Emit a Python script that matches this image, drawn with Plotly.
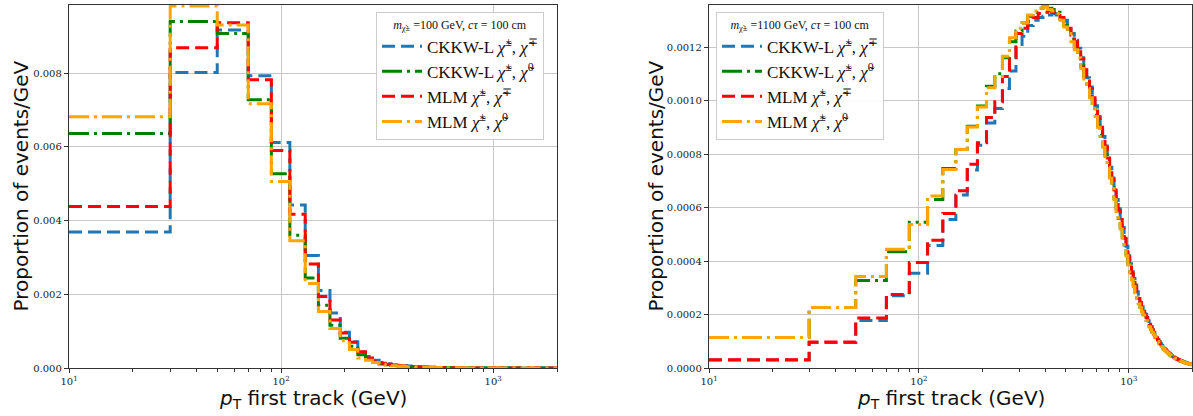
import plotly.graph_objects as go

# ---------------- data ----------------
BIN_WIDTH = 20          # GeV
FIRST_EDGE = 10         # GeV

SERIES = ["CKKW-L <i>χ̃</i><sup>±</sup>, <i>χ̃</i><sup>∓</sup>",
          "CKKW-L <i>χ̃</i><sup>±</sup>, <i>χ̃</i><sup>0</sup>",
          "MLM <i>χ̃</i><sup>±</sup>, <i>χ̃</i><sup>∓</sup>",
          "MLM <i>χ̃</i><sup>±</sup>, <i>χ̃</i><sup>0</sup>"]

LEFT_TITLE = "<i>m</i><sub>χ̃±</sub> =100 GeV, <i>cτ</i> = 100 cm"
RIGHT_TITLE = "<i>m</i><sub>χ̃±</sub> =1100 GeV, <i>cτ</i> = 100 cm"

# left panel, proportion of events/GeV in units of 1e-3 (bins of 20 GeV from 10 GeV)
left_ckkw_cc = [3.69, 8.02, 9.17, 7.93, 6.12, 4.42, 3.05, 2.10, 1.49, 0.97,
                0.71, 0.43, 0.315, 0.21, 0.15, 0.115, 0.09, 0.075, 0.062, 0.052,
                0.044, 0.037, 0.031, 0.026, 0.022, 0.019, 0.016, 0.014, 0.012, 0.010,
                0.009, 0.008, 0.007, 0.006, 0.0055, 0.005, 0.0045, 0.004, 0.0035, 0.003,
                0.0028, 0.0025, 0.0023, 0.002, 0.0018, 0.0016, 0.0015, 0.0013, 0.0012, 0.0011,
                0.001, 0.0009, 0.0008, 0.0008, 0.0007, 0.0006, 0.0006, 0.0005, 0.0005, 0.0004,
                0.0004, 0.0004, 0.0003, 0.0003, 0.0003, 0.0003, 0.0002, 0.0002, 0.0002, 0.0002,
                0.0002, 0.0002, 0.0001, 0.0001, 0.0001, 0.0001, 0.0001, 0.0001, 0.0001, 0.0001,
                0.0001, 0.0001, 0.0001, 0.0001, 0.0001, 0.0001, 0.0001, 0.0001, 0.0001, 0.0001,
                0.0001, 0.0001, 0.0001, 0.0001, 0.0001, 0.0, 0.0, 0.0, 0.0, 0.0]
left_ckkw_cn = [6.36, 9.40, 9.08, 7.28, 5.27, 3.60, 2.44, 1.70, 1.16, 0.81,
                0.59, 0.36, 0.23, 0.15, 0.11, 0.085, 0.068, 0.056, 0.047, 0.040,
                0.034, 0.029, 0.025, 0.021, 0.018, 0.016, 0.014, 0.012, 0.010, 0.009,
                0.008, 0.007, 0.006, 0.0055, 0.005, 0.0045, 0.004, 0.0035, 0.003, 0.0028,
                0.0025, 0.0023, 0.002, 0.0018, 0.0016, 0.0015, 0.0013, 0.0012, 0.0011, 0.001,
                0.0009, 0.0008, 0.0008, 0.0007, 0.0006, 0.0006, 0.0005, 0.0005, 0.0004, 0.0004,
                0.0004, 0.0003, 0.0003, 0.0003, 0.0003, 0.0002, 0.0002, 0.0002, 0.0002, 0.0002,
                0.0002, 0.0001, 0.0001, 0.0001, 0.0001, 0.0001, 0.0001, 0.0001, 0.0001, 0.0001,
                0.0001, 0.0001, 0.0001, 0.0001, 0.0001, 0.0001, 0.0001, 0.0001, 0.0001, 0.0001,
                0.0001, 0.0001, 0.0001, 0.0001, 0.0, 0.0, 0.0, 0.0, 0.0, 0.0]
left_mlm_cc = [4.38, 8.69, 9.37, 7.82, 5.90, 4.17, 2.82, 1.94, 1.30, 0.95,
               0.70, 0.44, 0.27, 0.18, 0.13, 0.10, 0.08, 0.066, 0.055, 0.046,
               0.039, 0.033, 0.028, 0.024, 0.020, 0.017, 0.015, 0.013, 0.011, 0.0095,
               0.0085, 0.0075, 0.0065, 0.0058, 0.0052, 0.0046, 0.0041, 0.0037, 0.0033, 0.003,
               0.0027, 0.0024, 0.0022, 0.002, 0.0018, 0.0016, 0.0014, 0.0013, 0.0012, 0.0011,
               0.001, 0.0009, 0.0008, 0.0007, 0.0007, 0.0006, 0.0006, 0.0005, 0.0005, 0.0004,
               0.0004, 0.0004, 0.0003, 0.0003, 0.0003, 0.0003, 0.0002, 0.0002, 0.0002, 0.0002,
               0.0002, 0.0002, 0.0001, 0.0001, 0.0001, 0.0001, 0.0001, 0.0001, 0.0001, 0.0001,
               0.0001, 0.0001, 0.0001, 0.0001, 0.0001, 0.0001, 0.0001, 0.0001, 0.0001, 0.0001,
               0.0001, 0.0001, 0.0001, 0.0001, 0.0001, 0.0, 0.0, 0.0, 0.0, 0.0]
left_mlm_cn = [6.82, 9.82, 9.31, 7.17, 5.06, 3.45, 2.29, 1.53, 1.07, 0.74,
               0.50, 0.27, 0.21, 0.15, 0.105, 0.08, 0.064, 0.052, 0.044, 0.037,
               0.031, 0.027, 0.023, 0.02, 0.017, 0.015, 0.013, 0.011, 0.0095, 0.0085,
               0.0075, 0.0065, 0.006, 0.0052, 0.0046, 0.0041, 0.0037, 0.0033, 0.003, 0.0027,
               0.0024, 0.0022, 0.002, 0.0018, 0.0016, 0.0014, 0.0013, 0.0012, 0.0011, 0.001,
               0.0009, 0.0008, 0.0007, 0.0007, 0.0006, 0.0006, 0.0005, 0.0005, 0.0004, 0.0004,
               0.0004, 0.0003, 0.0003, 0.0003, 0.0003, 0.0002, 0.0002, 0.0002, 0.0002, 0.0002,
               0.0002, 0.0001, 0.0001, 0.0001, 0.0001, 0.0001, 0.0001, 0.0001, 0.0001, 0.0001,
               0.0001, 0.0001, 0.0001, 0.0001, 0.0001, 0.0001, 0.0001, 0.0001, 0.0001, 0.0001,
               0.0001, 0.0001, 0.0001, 0.0, 0.0, 0.0, 0.0, 0.0, 0.0, 0.0]

# right panel, proportion of events/GeV in units of 1e-4
right_ckkw_cc = [0.30, 0.95, 1.78, 2.70, 3.54, 4.58, 5.55, 6.47, 7.40, 8.33,
                 9.16, 9.70, 10.45, 11.1, 12.0, 12.4, 12.8, 13.0, 13.1, 13.15,
                 13.2, 13.25, 13.2, 13.1, 13.0, 12.75, 12.5, 12.25, 11.95, 11.6,
                 11.2, 10.85, 10.5, 10.15, 9.8, 9.4, 9.05, 8.65, 8.3, 7.9,
                 7.5, 7.1, 6.7, 6.3, 5.95, 5.6, 5.25, 4.9, 4.55, 4.2,
                 3.9, 3.6, 3.35, 3.1, 2.85, 2.63, 2.45, 2.29, 2.14, 2.02,
                 1.9, 1.77, 1.65, 1.54, 1.43, 1.33, 1.23, 1.14, 1.06, 0.98,
                 0.91, 0.85, 0.79, 0.73, 0.68, 0.63, 0.59, 0.55, 0.51, 0.47,
                 0.44, 0.41, 0.39, 0.36, 0.34, 0.32, 0.30, 0.285, 0.27, 0.255,
                 0.24, 0.225, 0.21, 0.195, 0.183, 0.172, 0.162, 0.152, 0.142, 0.132]
right_ckkw_cn = [1.14, 2.26, 3.27, 4.35, 5.45, 6.30, 7.46, 8.17, 9.04, 9.79,
                 10.53, 11.0, 11.6, 12.2, 12.6, 12.9, 13.15, 13.3, 13.45, 13.5,
                 13.45, 13.4, 13.3, 13.05, 12.8, 12.55, 12.3, 12.0, 11.65, 11.3,
                 10.9, 10.5, 10.15, 9.8, 9.45, 9.05, 8.7, 8.3, 7.95, 7.55,
                 7.15, 6.75, 6.35, 5.95, 5.6, 5.25, 4.9, 4.6, 4.25, 3.9,
                 3.6, 3.35, 3.1, 2.85, 2.62, 2.43, 2.27, 2.12, 2.0, 1.88,
                 1.78, 1.66, 1.55, 1.44, 1.34, 1.25, 1.16, 1.08, 1.0, 0.93,
                 0.87, 0.81, 0.75, 0.70, 0.65, 0.61, 0.57, 0.53, 0.49, 0.46,
                 0.43, 0.40, 0.38, 0.355, 0.335, 0.315, 0.295, 0.275, 0.26, 0.245,
                 0.23, 0.215, 0.20, 0.19, 0.178, 0.168, 0.158, 0.148, 0.138, 0.128]
right_mlm_cc = [0.31, 0.97, 1.87, 2.75, 3.94, 4.78, 5.78, 6.63, 7.62, 8.42,
                9.36, 9.95, 10.9, 11.6, 12.5, 12.7, 12.95, 13.1, 13.25, 13.3,
                13.35, 13.3, 13.25, 13.1, 12.95, 12.7, 12.45, 12.2, 11.9, 11.55,
                11.15, 10.8, 10.45, 10.1, 9.75, 9.35, 9.0, 8.6, 8.25, 7.85,
                7.45, 7.05, 6.65, 6.2, 5.9, 5.55, 5.2, 4.85, 4.5, 4.15,
                3.85, 3.55, 3.3, 3.05, 2.8, 2.6, 2.42, 2.27, 2.12, 2.0,
                1.88, 1.76, 1.64, 1.53, 1.42, 1.32, 1.22, 1.13, 1.05, 0.97,
                0.90, 0.84, 0.78, 0.72, 0.67, 0.63, 0.58, 0.54, 0.50, 0.47,
                0.44, 0.41, 0.38, 0.36, 0.34, 0.32, 0.30, 0.28, 0.265, 0.25,
                0.235, 0.22, 0.205, 0.192, 0.18, 0.17, 0.16, 0.15, 0.14, 0.13]
right_mlm_cn = [1.14, 2.26, 3.42, 4.44, 5.36, 6.43, 7.42, 8.17, 9.01, 9.76,
                10.48, 10.90, 11.65, 12.35, 12.7, 12.9, 13.2, 13.35, 13.45, 13.5,
                13.4, 13.35, 13.25, 13.0, 12.75, 12.5, 12.2, 11.9, 11.6, 11.2,
                10.8, 10.45, 10.1, 9.75, 9.4, 9.0, 8.65, 8.25, 7.9, 7.5,
                7.1, 6.7, 6.3, 5.85, 5.55, 5.2, 4.85, 4.5, 4.2, 3.85,
                3.55, 3.3, 3.05, 2.8, 2.6, 2.4, 2.25, 2.1, 1.98, 1.87,
                1.77, 1.65, 1.53, 1.43, 1.33, 1.24, 1.15, 1.07, 0.99, 0.92,
                0.86, 0.80, 0.74, 0.69, 0.64, 0.60, 0.56, 0.52, 0.48, 0.45,
                0.42, 0.39, 0.37, 0.35, 0.33, 0.31, 0.29, 0.27, 0.255, 0.24,
                0.225, 0.21, 0.20, 0.185, 0.175, 0.165, 0.155, 0.145, 0.135, 0.125]

X_TICKS = [10, 100, 1000]
X_TICK_TEXT = ["10<sup>1</sup>", "10<sup>2</sup>", "10<sup>3</sup>"]
MINOR_TICKS = [20, 30, 40, 50, 60, 70, 80, 90, 200, 300, 400, 500, 600, 700, 800, 900, 2000]

# ---------------- style ----------------
COLORS = ["#1f77b4", "#008000", "#ff0000", "#ffa500"]
DASHES = ["13px,6px", "20px,5px,3px,5px", "13px,6px", "20px,5px,3px,5px"]
LW = 3.0

fig = go.Figure()


def add_panel(series_vals, unit, xa, ya, legend):
    for name, vals, col, dash in zip(SERIES, series_vals, COLORS, DASHES):
        edges = [FIRST_EDGE + BIN_WIDTH * i for i in range(len(vals) + 1)]
        yv = [v * unit for v in vals] + [vals[-1] * unit]
        fig.add_trace(go.Scatter(x=edges, y=yv, mode="lines", line_shape="hv",
                                 line=dict(color=col, width=LW, dash=dash),
                                 name=name, xaxis=xa, yaxis=ya, legend=legend))


add_panel([left_ckkw_cc, left_ckkw_cn, left_mlm_cc, left_mlm_cn], 1e-3, "x", "y", "legend")
add_panel([right_ckkw_cc, right_ckkw_cn, right_mlm_cc, right_mlm_cn], 1e-4, "x2", "y2", "legend2")

W, H = 1193, 416
ML, MR, MT, MB = 69, 1, 5, 48
PW = W - ML - MR
PH = H - MT - MB

d1 = [0, (557 - ML) / PW]
d2 = [(709 - ML) / PW, 1.0]

tick_font = dict(family="DejaVu Serif", size=10, color="#222")
common_x = dict(type="log", range=[1, 3.30103], tickvals=X_TICKS, ticktext=X_TICK_TEXT,
                ticks="outside", ticklen=4, tickcolor="#333", showgrid=True,
                gridcolor="#c8c8c8", gridwidth=1.2, showline=True, linecolor="#333",
                linewidth=1.3, mirror=True, zeroline=False, tickfont=tick_font,
                minor=dict(tickvals=MINOR_TICKS, ticks="outside", ticklen=2.5,
                           tickcolor="#333", showgrid=False))
common_y = dict(ticks="outside", ticklen=4, tickcolor="#333", showgrid=True,
                gridcolor="#c8c8c8", gridwidth=1.2, showline=True, linecolor="#333",
                linewidth=1.3, mirror=True, zeroline=False, tickfont=tick_font)

legend_common = dict(bgcolor="rgba(255,255,255,0.9)", bordercolor="#cccccc", borderwidth=1,
                     font=dict(family="Liberation Serif", size=17, color="#111"),
                     xanchor="left", yanchor="top", tracegroupgap=0, itemwidth=40)

fig.update_layout(
    width=W, height=H,
    margin=dict(l=ML, r=MR, t=MT, b=MB),
    paper_bgcolor="white", plot_bgcolor="white",
    xaxis=dict(domain=d1, anchor="y", **common_x),
    yaxis=dict(domain=[0, 1], anchor="x", range=[0, 0.00985], dtick=0.002,
               tickformat=".3f", **common_y),
    xaxis2=dict(domain=d2, anchor="y2", **common_x),
    yaxis2=dict(domain=[0, 1], anchor="x2", range=[0, 0.001357], dtick=0.0002,
                tickformat=".4f", **common_y),
    legend=dict(x=(376 - ML) / PW, y=(H - MB - 12) / PH,
                title=dict(text=LEFT_TITLE, side="top center",
                           font=dict(family="Liberation Serif", size=12)),
                **legend_common),
    legend2=dict(x=(716 - ML) / PW, y=(H - MB - 12) / PH,
                 title=dict(text=RIGHT_TITLE, side="top center",
                            font=dict(family="Liberation Serif", size=12)),
                 **legend_common),
    showlegend=True,
)

title_font = dict(family="DejaVu Sans", size=20, color="#111")
xt = "<i>p</i><sub>T</sub> first track (GeV)"
yt = "Proportion of events/GeV"
for dom, xpix_y in [(d1, 20), (d2, 655)]:
    cx = (dom[0] + dom[1]) / 2
    fig.add_annotation(text=xt, xref="paper", yref="paper", x=cx, y=-(399 - (H - MB)) / PH,
                       xanchor="center", yanchor="middle", showarrow=False, font=title_font)
    fig.add_annotation(text=yt, xref="paper", yref="paper", x=(xpix_y - ML) / PW, y=0.5,
                       xanchor="center", yanchor="middle", textangle=-90, showarrow=False,
                       font=title_font)

fig.write_html("out.html", config={"displayModeBar": False},
               post_script="document.body.style.margin='0';document.body.style.overflow='hidden';")
